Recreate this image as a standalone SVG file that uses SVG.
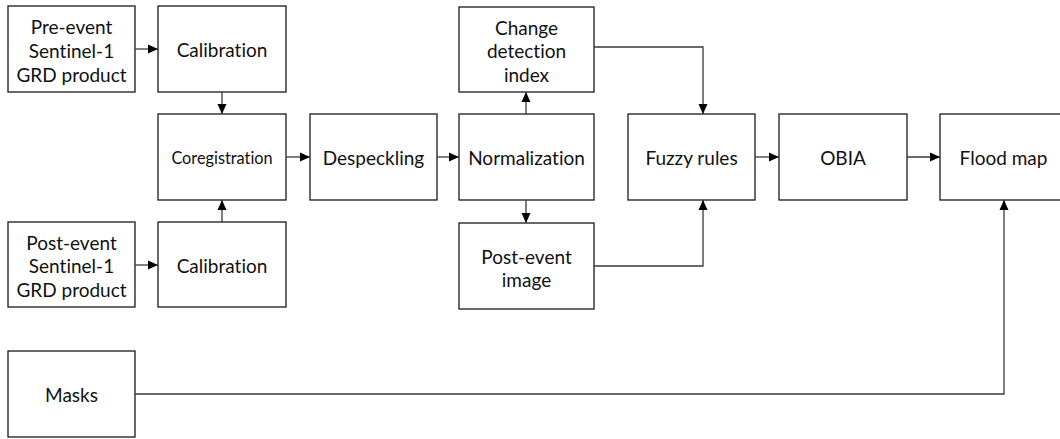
<svg xmlns="http://www.w3.org/2000/svg" width="1060" height="439" viewBox="0 0 1060 439">
<style>
.box{fill:#fff;stroke:#1a1a1a;stroke-width:1.3}
.t{font-family:Lato,"Open Sans",sans-serif;font-size:19px;fill:#111;text-anchor:middle;dominant-baseline:central;font-variant-ligatures:none}
.s{font-size:16.3px}
.c{fill:none;stroke:#3a3a3a;stroke-width:1.3;marker-end:url(#ah)}
</style>
<defs>
<marker id="ah" markerUnits="userSpaceOnUse" markerWidth="11" markerHeight="11" refX="10" refY="5.5" orient="auto">
<path d="M0,1 L10,5.5 L0,10 Z" fill="#000"/>
</marker>
</defs>
<rect width="1060" height="439" fill="#fff"/>
<g id="pre"><rect class="box" x="8" y="6" width="127" height="86"/><text class="t" x="71.5" y="26">Pre-event</text><text class="t" x="71.5" y="50">Sentinel-1</text><text class="t" x="71.5" y="74">GRD product</text></g>
<g id="cal1"><rect class="box" x="158" y="6" width="128" height="86"/><text class="t" x="222" y="49">Calibration</text></g>
<g id="coreg"><rect class="box" x="158" y="114" width="128" height="86"/><text class="t s" x="222" y="157">Coregistration</text></g>
<g id="post"><rect class="box" x="8" y="222" width="127" height="85"/><text class="t" x="71.5" y="242">Post-event</text><text class="t" x="71.5" y="265">Sentinel-1</text><text class="t" x="71.5" y="289">GRD product</text></g>
<g id="cal2"><rect class="box" x="158" y="222" width="128" height="85"/><text class="t" x="222" y="265">Calibration</text></g>
<g id="masks"><rect class="box" x="8" y="351" width="127" height="86"/><text class="t" x="71.5" y="394">Masks</text></g>
<g id="desp"><rect class="box" x="310" y="114" width="127" height="86"/><text class="t" x="373.5" y="157">Despeckling</text></g>
<g id="norm"><rect class="box" x="459" y="114" width="135" height="86"/><text class="t" x="526.5" y="157">Normalization</text></g>
<g id="cdi"><rect class="box" x="459" y="7" width="135" height="85"/><text class="t" x="526.5" y="27">Change</text><text class="t" x="526.5" y="50">detection</text><text class="t" x="526.5" y="74">index</text></g>
<g id="pei"><rect class="box" x="459" y="223" width="135" height="86"/><text class="t" x="526.5" y="256">Post-event</text><text class="t" x="526.5" y="279">image</text></g>
<g id="fuzzy"><rect class="box" x="628" y="114" width="127" height="86"/><text class="t" x="691.5" y="157">Fuzzy rules</text></g>
<g id="obia"><rect class="box" x="779" y="114" width="128" height="86"/><text class="t" x="843" y="157">OBIA</text></g>
<g id="flood"><rect class="box" x="940" y="114" width="127" height="86"/><text class="t" x="1003.5" y="157">Flood map</text></g>
<g id="connectors">
<path class="c" d="M135,49 H158"/>
<path class="c" d="M222,92 V114"/>
<path class="c" d="M222,222 V200"/>
<path class="c" d="M135,265 H158"/>
<path class="c" d="M286,157 H310"/>
<path class="c" d="M437,157 H459"/>
<path class="c" d="M526,114 V92"/>
<path class="c" d="M526,200 V223"/>
<path class="c" d="M594,47 H703 V114"/>
<path class="c" d="M594,266 H703 V200"/>
<path class="c" d="M755,157 H779"/>
<path class="c" d="M907,157 H940"/>
<path class="c" d="M135,394 H1004 V200"/>
</g>
</svg>
